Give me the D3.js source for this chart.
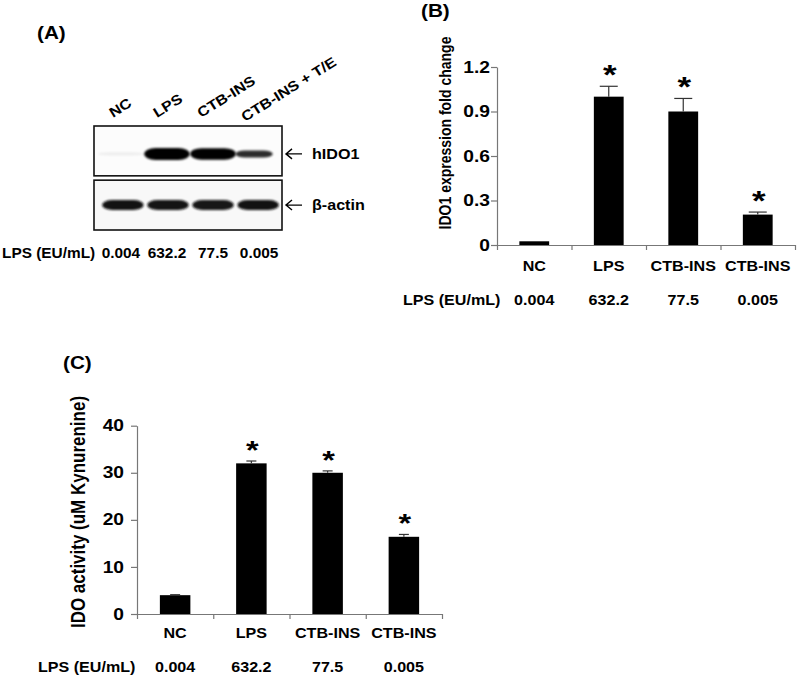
<!DOCTYPE html>
<html><head><meta charset="utf-8">
<script src="https://cdn.jsdelivr.net/npm/d3@7"></script>
<style>
body{margin:0;background:#fff;}
text{font-family:"Liberation Sans",Arial,sans-serif;fill:#000;}
</style></head>
<body><svg id="c" width="800" height="678"></svg>
<script>
// ---------- data ----------
const laneLabels = ["NC", "LPS", "CTB-INS", "CTB-INS + T/E"];
const lpsLevels = ["0.004", "632.2", "77.5", "0.005"];
const lpsRowLabel = "LPS (EU/mL)";
const blotTargets = ["hIDO1", "β-actin"];
const hIDO1Intensity = [0.03, 1.0, 0.95, 0.45];
const actinIntensity = [0.85, 0.8, 0.72, 0.85];

const barCategories = ["NC", "LPS", "CTB-INS", "CTB-INS"];
const foldValues = [0.025, 1.0, 0.9, 0.205];
const foldErrors = [0, 0.07, 0.088, 0.017];
const foldTicks = [0, 0.3, 0.6, 0.9, 1.2];
const foldTickLabels = ["0", "0.3", "0.6", "0.9", "1.2"];
const kynValues = [4.0, 32.0, 30.0, 16.4];
const kynErrors = [0.1, 0.5, 0.4, 0.5];
const kynTicks = [0, 10, 20, 30, 40];
const significant = [false, true, true, true];

// ---------- helpers ----------
const svg = d3.select("#c");
const SX = 1.15;
function htext(g, x, y, str, size, anchor, weight, sx) {
  return g.append("text")
    .attr("transform", `translate(${x},${y}) scale(${sx || SX},1)`)
    .attr("text-anchor", anchor || "start")
    .attr("font-size", size)
    .attr("font-weight", weight || "bold")
    .text(str);
}
const defs = svg.append("defs");
defs.append("filter").attr("id", "blur").attr("x", "-20%").attr("y", "-100%").attr("width", "140%").attr("height", "300%")
  .append("feGaussianBlur").attr("stdDeviation", "1.3 0.9");

// ---------- Panel A: western blot ----------
const gA = svg.append("g");
htext(gA, 37, 39, "(A)", 18, "start");
const lane = d3.scaleBand().domain(d3.range(4)).range([95, 283]).padding(0.08);
const row = d3.scaleBand().domain(blotTargets).range([126, 230]).paddingInner(0.08);
const boxX0 = 94, boxX1 = 282;

laneLabels.forEach((t, i) => {
  const cx = lane(i) + lane.bandwidth() / 2;
  const dy = i === 3 ? 4 : 0;
  gA.append("text")
    .attr("transform", `translate(${cx - 7 - i * 2},${118 + dy}) rotate(-32) scale(${SX},1)`)
    .attr("font-size", 14).attr("font-weight", "bold").text(t);
});
blotTargets.forEach((t, r) => {
  gA.append("rect").attr("x", boxX0).attr("y", row(t)).attr("width", boxX1 - boxX0).attr("height", row.bandwidth())
    .attr("fill", r === 0 ? "#fcfcfc" : "#f8f8f8").attr("stroke", "#111").attr("stroke-width", 1.6);
  const yc = row(t) + row.bandwidth() * (r === 0 ? 0.56 : 0.5);
  const ax0 = 286, ax1 = 302;
  gA.append("path").attr("d", `M${ax1},${yc} L${ax0},${yc} M${ax0 + 6},${yc - 5} L${ax0},${yc} L${ax0 + 6},${yc + 5}`)
    .attr("stroke", "#000").attr("stroke-width", 1.4).attr("fill", "none");
  htext(gA, 312, yc + 5, t, 14, "start");
});
const opac = d3.scaleLinear().domain([0, 0.5, 1]).range([0, 0.92, 1]).clamp(true);
const hThick = d3.scaleLinear().domain([0, 1]).range([3, 12]);
hIDO1Intensity.forEach((v, i) => {
  const w = lane.bandwidth() * (i === 3 ? 0.88 : 1.08);
  const h = hThick(v);
  const cx = lane(i) + lane.bandwidth() / 2 + (i === 3 ? -4 : 1);
  const cy = row("hIDO1") + row.bandwidth() * 0.56;
  gA.append("rect").attr("x", cx - w / 2).attr("y", cy - h / 2).attr("width", w).attr("height", h)
    .attr("rx", w / 4).attr("ry", h / 2)
    .attr("fill", "#050505").attr("opacity", opac(v)).attr("filter", "url(#blur)");
});
actinIntensity.forEach((v, i) => {
  const w = lane.bandwidth() * 0.98;
  const h = 10;
  const cx = lane(i) + lane.bandwidth() / 2 + 3 - i;
  const cy = row("β-actin") + row.bandwidth() * 0.5;
  gA.append("rect").attr("x", cx - w / 2).attr("y", cy - h / 2).attr("width", w).attr("height", h)
    .attr("rx", w / 4).attr("ry", h / 2)
    .attr("fill", "#111").attr("opacity", opac(v)).attr("filter", "url(#blur)");
});
htext(gA, 2, 258, lpsRowLabel, 14, "start", "bold", 1.1);
lpsLevels.forEach((t, i) => {
  htext(gA, lane(i) + lane.bandwidth() / 2 + 1, 258, t, 14, "middle", "bold", 1.1);
});

// ---------- bar chart builder ----------
function barPanel(cfg) {
  const g = svg.append("g");
  const n = cfg.values.length;
  const x = d3.scaleBand().domain(d3.range(n)).range([cfg.x0, cfg.x1]).paddingInner(cfg.pad).paddingOuter(cfg.pad / 2);
  const xb = d3.scaleLinear().domain([0, n]).range([cfg.x0, cfg.x1]);
  const y = d3.scaleLinear().domain(cfg.domain).range([cfg.yBase, cfg.yTop]);
  const ya = g.append("g").attr("transform", `translate(${cfg.x0},0)`)
    .call(d3.axisLeft(y).tickValues(cfg.ticks).tickFormat((d, i) => cfg.tickLabels[i]).tickSize(6).tickSizeOuter(0).tickPadding(cfg.tickPad));
  ya.select(".domain").attr("stroke", "#777").attr("stroke-width", 1.2);
  ya.selectAll(".tick line").attr("stroke", "#777").attr("stroke-width", 1.2);
  ya.selectAll(".tick text").attr("font-size", 16).attr("font-weight", "bold").attr("fill", "#000")
    .attr("font-family", '"Liberation Sans",Arial,sans-serif')
    .attr("transform", "scale(1.2,1)").attr("x", -(6 + cfg.tickPad) / 1.2);
  const xa = g.append("g").attr("transform", `translate(0,${cfg.yBase})`)
    .call(d3.axisBottom(xb).tickValues(d3.range(n + 1)).tickFormat("").tickSize(5).tickSizeOuter(0));
  xa.select(".domain").attr("stroke", "#777").attr("stroke-width", 1.2);
  xa.selectAll(".tick line").attr("stroke", "#777").attr("stroke-width", 1.2);
  g.selectAll("rect.bar").data(cfg.values).join("rect").attr("class", "bar")
    .attr("x", (d, i) => x(i)).attr("width", x.bandwidth())
    .attr("y", d => y(d)).attr("height", d => y(cfg.domain[0]) - y(d))
    .attr("fill", "#000");
  cfg.values.forEach((v, i) => {
    const e = cfg.errors[i];
    if (e <= 0) return;
    const cx = x(i) + x.bandwidth() / 2;
    g.append("line").attr("x1", cx).attr("x2", cx).attr("y1", y(v)).attr("y2", y(v + e)).attr("stroke", "#333").attr("stroke-width", 1.2);
    g.append("line").attr("x1", cx - cfg.cap / 2).attr("x2", cx + cfg.cap / 2).attr("y1", y(v + e)).attr("y2", y(v + e)).attr("stroke", "#333").attr("stroke-width", 1.2);
    if (cfg.sig[i]) {
      g.append("text").attr("transform", `translate(${cx + 1},${y(v + e) - 17 + 15}) scale(1.25,1)`)
        .attr("text-anchor", "middle").attr("font-size", cfg.starSize).attr("font-weight", "bold").text("*");
    }
  });
  cfg.cats.forEach((t, i) => htext(g, x(i) + x.bandwidth() / 2, cfg.catY, t, 14, "middle"));
  htext(g, cfg.lpsX, cfg.lpsY, lpsRowLabel, 14, "start");
  lpsLevels.forEach((t, i) => htext(g, x(i) + x.bandwidth() / 2, cfg.lpsY, t, 14, "middle"));
  g.append("text").attr("transform", `translate(${cfg.ylabX},${cfg.ylabY}) scale(1.15,1) rotate(-90)`)
    .attr("text-anchor", "middle").attr("font-size", cfg.ylabSize).attr("font-weight", "bold").text(cfg.ylabel);
  htext(g, cfg.titleX, cfg.titleY, cfg.title, 18, "start");
}

barPanel({
  values: foldValues, errors: foldErrors, sig: significant, cats: barCategories,
  x0: 497, x1: 795, pad: 0.6, domain: [0, 1.2], yBase: 245, yTop: 67,
  ticks: foldTicks, tickLabels: foldTickLabels, tickPad: 1, cap: 18, starSize: 28,
  catY: 271, lpsX: 403, lpsY: 305,
  ylabel: "IDO1 expression fold change", ylabX: 451, ylabY: 133, ylabSize: 14,
  title: "(B)", titleX: 421, titleY: 17
});
barPanel({
  values: kynValues, errors: kynErrors, sig: significant, cats: barCategories,
  x0: 137, x1: 442, pad: 0.6, domain: [0, 40], yBase: 614, yTop: 425.7,
  ticks: kynTicks, tickLabels: kynTicks.map(String), tickPad: 7, cap: 10, starSize: 26,
  catY: 638, lpsX: 38, lpsY: 672,
  ylabel: "IDO activity (uM Kynurenine)", ylabX: 85, ylabY: 512, ylabSize: 17,
  title: "(C)", titleX: 63, titleY: 369
});
</script></body></html>
